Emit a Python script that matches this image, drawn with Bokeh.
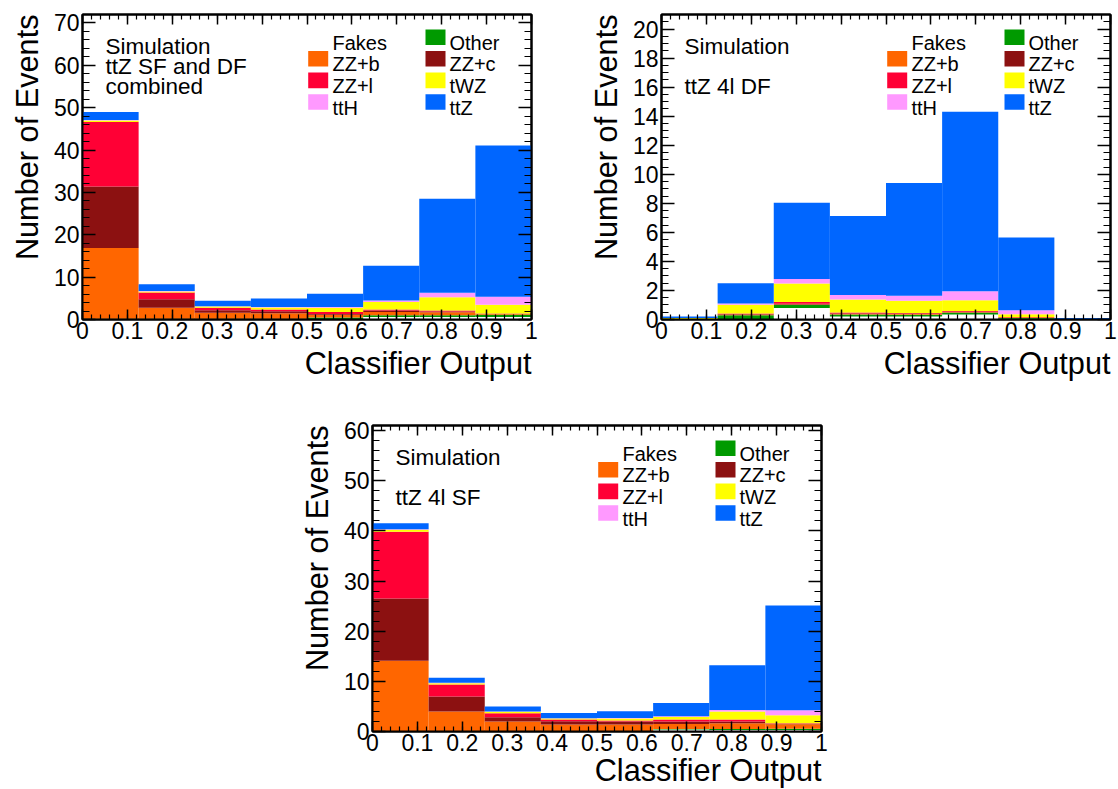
import math
import numpy as np
from bokeh.plotting import figure
from bokeh.models import (Range1d, LinearAxis, FixedTicker, Label, Spacer,
                          CustomJSTickFormatter, Title)
from bokeh.layouts import column, row
from bokeh.embed import file_html
from bokeh.resources import INLINE

FONT = "Liberation Sans"

# Classifier output binning (8 equal bins)
bin_edges = [0.0, 0.125, 0.25, 0.375, 0.5, 0.625, 0.75, 0.875, 1.0]

# Stacking order, bottom -> top ("blank" is the white-filled remainder)
stack_order = ["blank", "Other", "ZZ+b", "ZZ+c", "ZZ+l", "tWZ", "ttH", "ttZ"]
stack_colors = {
    "blank": "#ffffff",
    "Other": "#009a00",
    "ZZ+b": "#ff6600",
    "ZZ+c": "#8c1111",
    "ZZ+l": "#ff0035",
    "tWZ": "#ffff00",
    "ttH": "#ff99ff",
    "ttZ": "#0066ff",
}

# --- ttZ SF and DF combined ---
comb_blank = [0.0, 0.0, 0.0, 0.0, 0.0, 0.6, 0.6, 0.6]
comb_other = [0.2, 0.2, 0.15, 0.15, 0.5, 0.4, 0.4, 0.5]
comb_zzb = [16.7, 2.55, 1.45, 1.3, 0.6, 0.8, 0.7, 0.2]
comb_zzc = [14.5, 2.05, 0.6, 0.5, 0.2, 0.3, 0.2, 0.05]
comb_zzl = [15.2, 1.6, 0.55, 0.4, 0.5, 0.25, 0.2, 0.05]
comb_twz = [0.4, 0.2, 0.3, 0.5, 1.0, 1.8, 3.15, 2.1]
comb_tth = [0.1, 0.1, 0.1, 0.1, 0.15, 0.35, 1.05, 1.9]
comb_ttz = [1.9, 1.6, 1.3, 2.0, 3.15, 8.2, 22.2, 35.7]

# --- ttZ 4l DF ---
df_blank = [0.0, 0.0, 0.8, 0.2, 0.2, 0.35, 0.05, 0.0]
df_other = [0.03, 0.3, 0.2, 0.15, 0.12, 0.12, 0.05, 0.0]
df_zzb = [0.0, 0.03, 0.03, 0.03, 0.06, 0.03, 0.05, 0.0]
df_zzc = [0.0, 0.03, 0.05, 0.04, 0.03, 0.03, 0.0, 0.0]
df_zzl = [0.0, 0.06, 0.12, 0.06, 0.03, 0.05, 0.02, 0.0]
df_twz = [0.07, 0.6, 1.28, 0.9, 0.85, 0.75, 0.2, 0.0]
df_tth = [0.0, 0.08, 0.3, 0.3, 0.35, 0.62, 0.27, 0.0]
df_ttz = [0.1, 1.4, 5.25, 5.45, 7.76, 12.35, 5.0, 0.1]

# --- ttZ 4l SF ---
sf_blank = [0.0, 0.0, 0.0, 0.0, 0.0, 0.4, 0.3, 0.3]
sf_other = [0.1, 0.1, 0.1, 0.05, 0.05, 0.1, 0.2, 0.25]
sf_zzb = [14.0, 3.9, 1.9, 1.35, 1.35, 1.0, 1.15, 0.9]
sf_zzc = [12.4, 3.0, 0.85, 0.65, 0.6, 0.5, 0.35, 0.1]
sf_zzl = [13.3, 2.35, 0.8, 0.35, 0.2, 0.4, 0.4, 0.1]
sf_twz = [0.4, 0.25, 0.3, 0.2, 0.4, 0.5, 1.6, 1.6]
sf_tth = [0.1, 0.1, 0.05, 0.05, 0.1, 0.15, 0.3, 1.0]
sf_ttz = [1.2, 1.0, 1.0, 1.05, 1.35, 2.65, 8.9, 20.85]

x_major = [0.0, 0.1, 0.2, 0.3, 0.4, 0.5, 0.6, 0.7, 0.8, 0.9, 1.0]

# Legend layout: two columns, first column headed by "Fakes"
legend_left = [("ZZ+b", 1), ("ZZ+l", 2), ("ttH", 3)]
legend_right = [("Other", 0), ("ZZ+c", 1), ("tWZ", 2), ("ttZ", 3)]

FRAME_W = 449
TITLE_SIZE = "30.7px"


def make_panel(layers, ymax, y_major_step, y_minor_step, text_lines,
               width, height, left, right, top, bottom, xtitle_standoff):
    frame_h = height - top - bottom

    def fx(dx):
        return dx / FRAME_W

    def fy(dy):
        # dy: pixels below the top edge of the frame
        return ymax * (1.0 - dy / frame_h)

    p = figure(width=width, height=height,
               x_range=Range1d(0, 1), y_range=Range1d(0, ymax),
               output_backend="svg", toolbar_location=None,
               min_border_left=left, min_border_right=right,
               min_border_top=top, min_border_bottom=bottom)
    p.grid.visible = False
    p.outline_line_color = "black"
    p.outline_line_width = 2
    p.background_fill_color = "white"
    p.border_fill_color = "white"

    # stacked histogram
    lo = np.array(bin_edges[:-1])
    hi = np.array(bin_edges[1:])
    base = np.zeros(len(lo))
    for name in stack_order:
        vals = np.array(layers[name], dtype=float)
        p.quad(left=lo, right=hi, bottom=base, top=base + vals,
               fill_color=stack_colors[name], line_color=None)
        base = base + vals

    # ticks
    n_major = int(round(ymax // y_major_step))
    y_major = [i * y_major_step for i in range(n_major + 1)]
    n_minor = int(math.floor(ymax / y_minor_step + 1e-9))
    y_minor = [i * y_minor_step for i in range(n_minor + 1)]
    x_minor = [i * 0.02 for i in range(51)]
    xt = FixedTicker(ticks=x_major, minor_ticks=x_minor)
    yt = FixedTicker(ticks=y_major, minor_ticks=y_minor)

    xa = p.xaxis[0]
    xa.ticker = xt
    xa.major_label_overrides = {t: f"{t:g}" for t in x_major}
    ya = p.yaxis[0]
    ya.ticker = yt

    for ax in (xa, ya):
        ax.axis_line_width = 2
        ax.major_tick_out = 0
        ax.minor_tick_out = 0
        ax.major_tick_line_width = 1.5
        ax.minor_tick_line_width = 1.2
        ax.major_label_text_font = FONT
        ax.major_label_text_font_size = "23px"
        ax.major_label_text_color = "black"
    xa.major_tick_in = 10
    xa.minor_tick_in = 5
    xa.major_label_standoff = 2
    ya.major_tick_in = 13
    ya.minor_tick_in = 7
    ya.major_label_standoff = 3

    # mirrored ticks on the top and right edges (no labels)
    blank_fmt = CustomJSTickFormatter(code="return ''")
    top_ax = LinearAxis(ticker=xt, formatter=blank_fmt,
                        major_label_standoff=0, major_tick_out=0, minor_tick_out=0,
                        major_tick_in=10, minor_tick_in=5, axis_line_width=2,
                        major_tick_line_width=1.5, minor_tick_line_width=1.2)
    right_ax = LinearAxis(ticker=yt, formatter=blank_fmt,
                          major_label_standoff=0, major_tick_out=0, minor_tick_out=0,
                          major_tick_in=13, minor_tick_in=7, axis_line_width=2,
                          major_tick_line_width=1.5, minor_tick_line_width=1.2)
    p.add_layout(top_ax, "above")
    p.add_layout(right_ax, "right")

    # axis titles, flush with the far ends of the axes
    p.add_layout(Title(text="Classifier Output", align="right",
                       text_font=FONT, text_font_size=TITLE_SIZE,
                       text_font_style="normal", text_color="black",
                       standoff=xtitle_standoff), "below")
    p.add_layout(Title(text="Number of Events", align="right",
                       text_font=FONT, text_font_size=TITLE_SIZE,
                       text_font_style="normal", text_color="black",
                       standoff=11), "left")

    # panel description
    for dy, line in text_lines:
        p.add_layout(Label(x=fx(23), y=fy(dy), text=line,
                           text_align="left", text_baseline="alphabetic",
                           text_font=FONT, text_font_size="22.5px",
                           text_color="black"))

    # legend
    row_c = [22.7 + 21.6 * i for i in range(4)]
    p.add_layout(Label(x=fx(250), y=fy(row_c[0] + 5.5), text="Fakes",
                       text_align="left", text_baseline="alphabetic",
                       text_font=FONT, text_font_size="20px", text_color="black"))
    for col_box, col_text, entries in ((225.7, 250, legend_left),
                                       (343, 367, legend_right)):
        for name, r in entries:
            c = row_c[r]
            p.quad(left=fx(col_box), right=fx(col_box + 20),
                   bottom=fy(c + 7.8), top=fy(c - 7.8),
                   fill_color=stack_colors[name], line_color=None)
            p.add_layout(Label(x=fx(col_text), y=fy(c + 5.5), text=name,
                               text_align="left", text_baseline="alphabetic",
                               text_font=FONT, text_font_size="20px",
                               text_color="black"))
    return p


def layers_of(blank, other, zzb, zzc, zzl, twz, tth, ttz):
    return {"blank": blank, "Other": other, "ZZ+b": zzb, "ZZ+c": zzc,
            "ZZ+l": zzl, "tWZ": twz, "ttH": tth, "ttZ": ttz}


p_comb = make_panel(
    layers_of(comb_blank, comb_other, comb_zzb, comb_zzc, comb_zzl,
              comb_twz, comb_tth, comb_ttz),
    72, 10, 2,
    [(31.7, "Simulation"), (51.7, "ttZ SF and DF"), (72, "combined")],
    width=579, height=395, left=82, right=48, top=14, bottom=76,
    xtitle_standoff=4)

p_df = make_panel(
    layers_of(df_blank, df_other, df_zzb, df_zzc, df_zzl,
              df_twz, df_tth, df_ttz),
    21, 2, 0.5,
    [(31.7, "Simulation"), (72, "ttZ 4l DF")],
    width=539, height=395, left=82, right=8, top=14, bottom=76,
    xtitle_standoff=4)

p_sf = make_panel(
    layers_of(sf_blank, sf_other, sf_zzb, sf_zzc, sf_zzl,
              sf_twz, sf_tth, sf_ttz),
    61, 10, 2,
    [(31.7, "Simulation"), (72, "ttZ 4l SF")],
    width=551, height=394, left=82, right=20, top=30, bottom=58,
    xtitle_standoff=-5)

layout = column(row(p_comb, p_df),
                row(Spacer(width=290, height=394), p_sf))

with open("out.html", "w") as f:
    f.write(file_html(layout, INLINE))
